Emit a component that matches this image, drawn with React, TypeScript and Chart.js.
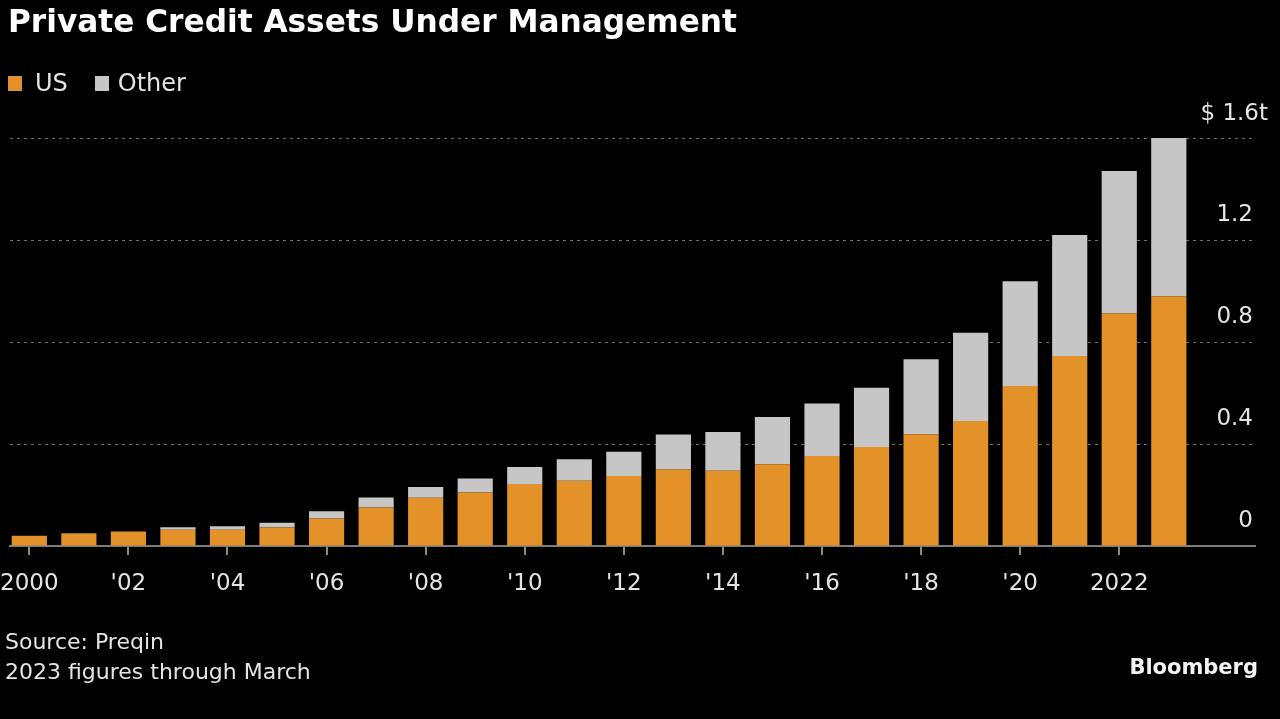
import React, { useEffect, useRef } from 'react';
import { Chart, registerables } from 'chart.js';

Chart.register(...registerables);

const YEARS = [2000, 2001, 2002, 2003, 2004, 2005, 2006, 2007, 2008, 2009, 2010, 2011, 2012, 2013, 2014, 2015, 2016, 2017, 2018, 2019, 2020, 2021, 2022, 2023];
const US = [0.040, 0.050, 0.057, 0.064, 0.064, 0.073, 0.108, 0.151, 0.189, 0.210, 0.243, 0.256, 0.275, 0.301, 0.295, 0.321, 0.353, 0.388, 0.438, 0.490, 0.627, 0.745, 0.912, 0.979];
const OTHER = [0.0, 0.0, 0.0, 0.010, 0.013, 0.018, 0.028, 0.039, 0.042, 0.055, 0.067, 0.084, 0.095, 0.136, 0.152, 0.185, 0.206, 0.233, 0.294, 0.346, 0.411, 0.475, 0.559, 0.633];
const X_TICKS = [2000, 2002, 2004, 2006, 2008, 2010, 2012, 2014, 2016, 2018, 2020, 2022];
const X_TICK_LABELS = ['2000', "'02", "'04", "'06", "'08", "'10", "'12", "'14", "'16", "'18", "'20", '2022'];
const Y_TICKS = [0, 0.4, 0.8, 1.2, 1.6];
const Y_TICK_LABELS = ['0', '0.4', '0.8', '1.2', ''];
const Y_UNIT_LABEL = '$ 1.6t';

const ORANGE = '#e3922a';
const GRAY = '#c6c6c6';
const TEXT = '#e4e4e4';
const FONT = '"DejaVu Sans", Verdana, sans-serif';

export default function App() {
  const ref = useRef<HTMLCanvasElement | null>(null);

  useEffect(() => {
    document.body.style.margin = '0';
    const canvas = ref.current;
    if (!canvas) return;
    const chart = new Chart(canvas, {
      type: 'bar',
      data: {
        datasets: [
          {
            label: 'US',
            data: YEARS.map((y, i) => ({ x: y, y: US[i] })),
            backgroundColor: ORANGE,
            borderWidth: 0,
            barPercentage: 0.71,
            categoryPercentage: 1,
          },
          {
            label: 'Other',
            data: YEARS.map((y, i) => ({ x: y, y: OTHER[i] })),
            backgroundColor: GRAY,
            borderWidth: 0,
            barPercentage: 0.71,
            categoryPercentage: 1,
          },
        ],
      },
      options: {
        responsive: false,
        animation: false,
        devicePixelRatio: 1,
        layout: { padding: { top: 138, left: 10, right: 25, bottom: 113 } },
        plugins: {
          legend: { display: false },
          title: { display: false },
          tooltip: { enabled: false },
        },
        scales: {
          x: {
            type: 'linear',
            stacked: true,
            offset: false,
            min: 1999.61,
            max: 2024.74,
            afterBuildTicks: (scale: any) => {
              scale.ticks = X_TICKS.map((v) => ({ value: v }));
            },
            afterFit: (scale: any) => {
              scale.height = 60;
              scale.paddingLeft = 0;
              scale.paddingRight = 0;
            },
            grid: {
              offset: false,
              drawOnChartArea: false,
              drawTicks: true,
              tickLength: 9,
              color: '#8a8a8a',
              lineWidth: 2,
            },
            border: { display: true, color: '#7c7c7c', width: 2 },
            ticks: {
              color: TEXT,
              padding: 15,
              maxRotation: 0,
              autoSkip: false,
              font: { family: FONT, size: 23 },
              callback: (_v: any, i: number) => X_TICK_LABELS[i],
            },
          },
          y: {
            type: 'linear',
            position: 'right',
            stacked: true,
            min: 0,
            max: 1.6,
            afterBuildTicks: (scale: any) => {
              scale.ticks = Y_TICKS.map((v) => ({ value: v }));
            },
            afterFit: (scale: any) => {
              scale.width = 0;
            },
            grid: {
              drawTicks: false,
              color: (ctx: any) => (ctx.tick && ctx.tick.value === 0 ? 'rgba(0,0,0,0)' : '#707070'),
              lineWidth: 1,
            },
            border: { display: false, dash: [3, 4] },
            ticks: {
              mirror: true,
              labelOffset: -25,
              padding: -2,
              color: TEXT,
              font: { family: FONT, size: 23 },
              callback: (_v: any, i: number) => Y_TICK_LABELS[i],
            },
          },
        },
      },
    } as any);
    return () => chart.destroy();
  }, []);

  const abs = (extra: React.CSSProperties): React.CSSProperties => ({
    position: 'absolute',
    whiteSpace: 'nowrap',
    lineHeight: 1,
    fontFamily: FONT,
    ...extra,
  });

  return (
    <div style={{ position: 'fixed', left: 0, top: 0, width: 1280, height: 719, background: '#000', overflow: 'hidden' }}>
      <canvas ref={ref} width={1280} height={719} style={{ position: 'absolute', left: 0, top: 0 }} />
      <div style={abs({ left: 8, top: 6, fontSize: 31.2, fontWeight: 'bold', color: '#ffffff' })}>
        Private Credit Assets Under Management
      </div>
      <div style={abs({ left: 8, top: 71, fontSize: 24, color: TEXT, display: 'flex', alignItems: 'center' })}>
        <span style={{ display: 'inline-block', width: 14, height: 15, background: ORANGE, marginRight: 13 }} />
        <span>US</span>
        <span style={{ display: 'inline-block', width: 14, height: 15, background: GRAY, marginLeft: 27, marginRight: 9 }} />
        <span>Other</span>
      </div>
      <div style={abs({ right: 12, top: 101, fontSize: 23, color: TEXT })}>{Y_UNIT_LABEL}</div>
      <div style={abs({ left: 5, top: 631, fontSize: 22, color: TEXT })}>Source: Preqin</div>
      <div style={abs({ left: 5, top: 661, fontSize: 22, color: TEXT })}>2023 figures through March</div>
      <div style={abs({ right: 22, top: 657, fontSize: 21, fontWeight: 'bold', color: '#f2f2f2' })}>Bloomberg</div>
    </div>
  );
}
